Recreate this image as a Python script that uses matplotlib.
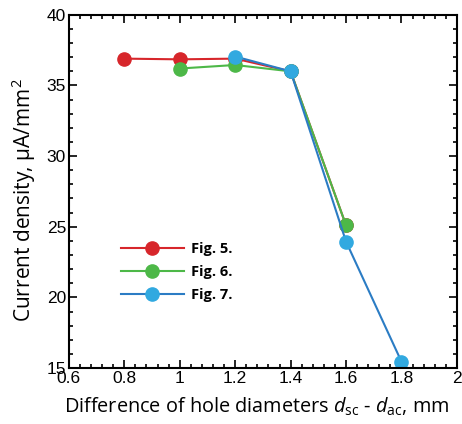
import matplotlib.pyplot as plt
from matplotlib.ticker import MultipleLocator

plt.rcParams["mathtext.fontset"] = "custom"
plt.rcParams["mathtext.rm"] = "Open Sans"
plt.rcParams["mathtext.it"] = "Open Sans:italic"

# data
x5 = [0.8, 1.0, 1.2, 1.4, 1.6]
y5 = [36.9, 36.85, 36.9, 36.0, 25.1]
x6 = [1.0, 1.2, 1.4, 1.6]
y6 = [36.2, 36.45, 36.0, 25.1]
x7 = [1.2, 1.4, 1.6, 1.8]
y7 = [37.05, 36.0, 23.95, 15.45]
labels = ["Fig. 5.", "Fig. 6.", "Fig. 7."]

fig = plt.figure(figsize=(4.62, 4.24), dpi=100)
ax = fig.add_axes([0.149, 0.132, 0.840, 0.833])

ax.plot(x5, y5, color="#d7262b", lw=1.5, marker="o", ms=9.5,
        mfc="#d7262b", mec="#d7262b", label=labels[0])
ax.plot(x6, y6, color="#4db848", lw=1.5, marker="o", ms=9.5,
        mfc="#4db848", mec="#4db848", label=labels[1])
ax.plot(x7, y7, color="#2b7cc4", lw=1.5, marker="o", ms=9.5,
        mfc="#31a9e0", mec="#31a9e0", label=labels[2])

ax.set_xlim(0.6, 2.0)
ax.set_ylim(15, 40)
ax.xaxis.set_minor_locator(MultipleLocator(0.04))
ax.yaxis.set_major_locator(MultipleLocator(5))
ax.yaxis.set_minor_locator(MultipleLocator(1))
ax.set_xticks([0.6, 0.8, 1.0, 1.2, 1.4, 1.6, 1.8, 2.0])
ax.set_xticklabels(["0.6", "0.8", "1", "1.2", "1.4", "1.6", "1.8", "2"])
ax.tick_params(which="both", direction="in", top=True, right=True, width=1.2)
ax.tick_params(which="major", length=6, labelsize=12.5, pad=2)
ax.tick_params(which="minor", length=3)
for lab in ax.get_xticklabels() + ax.get_yticklabels():
    lab.set_family("Liberation Sans")
for s in ax.spines.values():
    s.set_linewidth(1.5)

ax.set_xlabel(r"Difference of hole diameters $d_{\rm sc}$ - $d_{\rm ac}$, mm",
              fontsize=14.3, family="Open Sans")
ax.xaxis.set_label_coords(0.485, -0.077)
ax.set_ylabel("Current density, μA/mm$^2$", fontsize=15, family="Open Sans")
ax.yaxis.set_label_coords(-0.08, 0.476)

leg = ax.legend(loc="center left", bbox_to_anchor=(0.134, 0.272), frameon=False,
                prop={"family": "Open Sans", "weight": "bold", "size": 10.5},
                handlelength=4.3, labelspacing=0.6, handletextpad=0.48,
                borderpad=0, borderaxespad=0)

fig.savefig("out.png", dpi=100)
